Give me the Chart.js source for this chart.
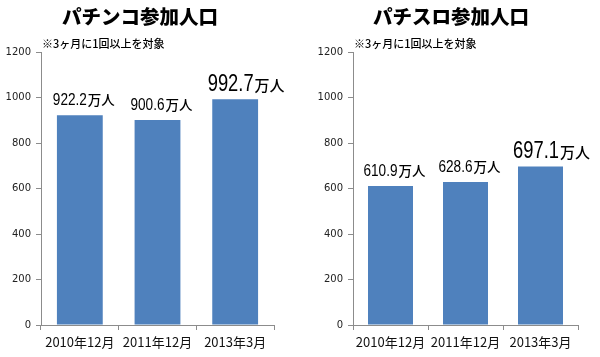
<!DOCTYPE html>
<html>
<head>
<meta charset="utf-8">
<script src="https://cdn.jsdelivr.net/npm/chart.js@4/dist/chart.umd.min.js"></script>
<style>
  html, body { margin: 0; padding: 0; background: #fff; }
  #wrap { width: 600px; height: 357px; position: relative; }
  .box { position: absolute; top: 0; width: 300px; height: 357px; }
</style>
</head>
<body>
<div id="wrap">
  <div class="box" style="left:0"><canvas id="c1" width="300" height="357"></canvas></div>
  <div class="box" style="left:300px"><canvas id="c2" width="300" height="357"></canvas></div>
</div>
<script>
const categories = ['2010年12月', '2011年12月', '2013年3月'];
const pachinkoValues = [922.2, 900.6, 992.7];
const slotValues = [610.9, 628.6, 697.1];
const yMin = 0, yMax = 1200, yStep = 200;
const titleLeft = 'パチンコ参加人口';
const titleRight = 'パチスロ参加人口';
const noteText = '※3ヶ月に1回以上を対象';
const unitText = '万人';
const highlightIndex = 2;

const CJK = '"Noto Sans CJK JP", "Noto Sans", sans-serif';
const NUMF = '"Liberation Sans", Arial, sans-serif';

function makeTextPlugin(title, titleX) {
  return {
    id: 'texts',
    afterDatasetsDraw(chart) {
      const ctx = chart.ctx;
      const area = chart.chartArea;
      ctx.save();
      ctx.fillStyle = '#000';
      ctx.font = '900 19.5px ' + CJK;
      ctx.textAlign = 'center';
      ctx.textBaseline = 'middle';
      ctx.fillText(title, titleX, 17);
      ctx.font = '500 11px ' + CJK;
      ctx.textAlign = 'left';
      ctx.fillText(noteText, area.left + 1, 44);
      const meta = chart.getDatasetMeta(0);
      const data = chart.data.datasets[0].data;
      meta.data.forEach((bar, i) => {
        const big = i === highlightIndex;
        const squeeze = big ? 0.78 : 0.8;
        const num = data[i].toFixed(1);
        const numFont = (big ? '23.5px ' : '17px ') + NUMF;
        const unitFont = (big ? '500 15px ' : '500 13.5px ') + CJK;
        ctx.font = numFont;
        const wn = ctx.measureText(num).width * squeeze;
        ctx.font = unitFont;
        const wu = ctx.measureText(unitText).width;
        const total = wn + wu + 1;
        const cx = bar.x + (big ? 11 : 4);
        const baseline = bar.y - (big ? 8 : 10);
        const x = cx - total / 2;
        ctx.textAlign = 'left';
        ctx.textBaseline = 'alphabetic';
        ctx.fillStyle = '#000';
        ctx.save();
        ctx.translate(x, baseline);
        ctx.scale(squeeze, 1);
        ctx.font = numFont;
        ctx.fillText(num, 0, 0);
        ctx.restore();
        ctx.font = unitFont;
        ctx.fillText(unitText, x + wn + 1, baseline);
      });
      ctx.restore();
    }
  };
}

function makeChart(id, values, title, titleX, yWidth, padRight, barPct) {
  return new Chart(document.getElementById(id), {
    type: 'bar',
    data: {
      labels: categories,
      datasets: [{
        data: values,
        backgroundColor: '#4F81BD',
        borderWidth: 0,
        categoryPercentage: 1,
        barPercentage: barPct
      }]
    },
    options: {
      responsive: false,
      animation: false,
      layout: { padding: { top: 52, right: padRight, left: 0, bottom: 0 } },
      plugins: { legend: { display: false }, tooltip: { enabled: false }, title: { display: false } },
      scales: {
        x: {
          offset: true,
          grid: { display: true, drawOnChartArea: false, drawTicks: true, tickLength: 5, color: '#8c8c8c', offset: true },
          border: { display: true, color: '#8c8c8c', width: 1 },
          ticks: { color: '#111', font: { family: CJK, size: 13 }, padding: 4, maxRotation: 0, autoSkip: false },
          afterFit: s => { s.height = 32; }
        },
        y: {
          min: yMin, max: yMax,
          grid: { display: true, drawOnChartArea: false, drawTicks: true, tickLength: 5, color: '#8c8c8c' },
          border: { display: true, color: '#8c8c8c', width: 1 },
          ticks: { stepSize: yStep, color: '#222', font: { family: '"DejaVu Sans", sans-serif', size: 10 }, padding: 5,
                   callback: v => String(v) },
          afterFit: s => { s.width = yWidth; }
        }
      }
    },
    plugins: [makeTextPlugin(title, titleX)]
  });
}

makeChart('c1', pachinkoValues, titleLeft, 140, 41, 26, 0.59);
makeChart('c2', slotValues, titleRight, 151, 53, 22, 0.6);
</script>
</body>
</html>
